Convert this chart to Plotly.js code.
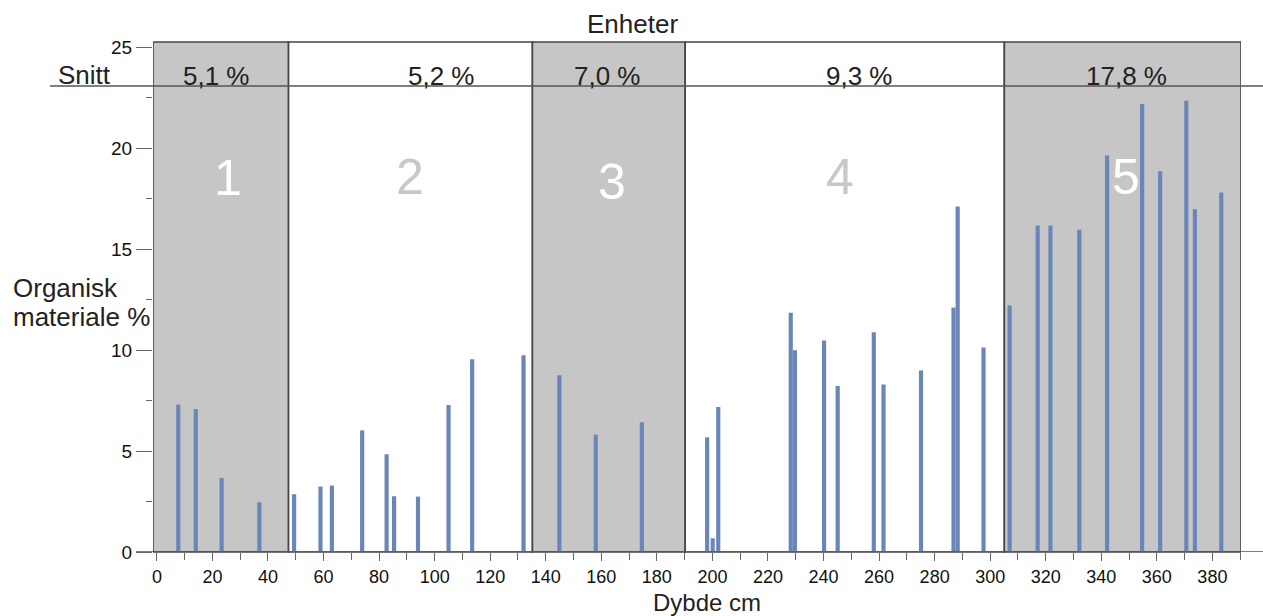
<!DOCTYPE html>
<html>
<head>
<meta charset="utf-8">
<script src="https://cdn.plot.ly/plotly-3.0.1.min.js"></script>
<style>
  html, body { margin: 0; padding: 0; background: #fff; }
  #chart { width: 1263px; height: 616px; }
</style>
</head>
<body>
<div id="chart"></div>
<script>
// ---------------- DATA ----------------
const depthCm = [7.7, 14.0, 23.3, 36.9, 49.4, 58.9, 63.0, 73.9, 82.7, 85.4, 94.0, 105.0, 113.5, 132.0,
                 144.9, 158.0, 174.6,
                 198.1, 200.1, 202.1, 228.2, 229.7, 240.2, 245.1, 258.1, 261.6, 275.1, 286.8, 288.3, 297.6,
                 307.0, 317.1, 321.7, 332.1, 342.1, 354.7, 361.2, 370.6, 373.7, 383.2];
const organicPct = [7.30, 7.08, 3.66, 2.46, 2.86, 3.24, 3.29, 6.02, 4.84, 2.76, 2.74, 7.28, 9.54, 9.74,
                    8.75, 5.81, 6.42,
                    5.68, 0.68, 7.18, 11.85, 9.99, 10.47, 8.22, 10.88, 8.29, 8.98, 12.11, 17.11, 10.12,
                    12.21, 16.16, 16.17, 15.95, 19.63, 22.18, 18.85, 22.34, 16.97, 17.80];
const unitNames = ['1', '2', '3', '4', '5'];
const unitEdges = [-1.4, 47.4, 135.2, 190.2, 305.1, 390.3];
const unitMeans = ['5,1 %', '5,2 %', '7,0 %', '9,3 %', '17,8 %'];
const snittLevel = 23.07;
const xTickVals = [0, 20, 40, 60, 80, 100, 120, 140, 160, 180, 200, 220, 240, 260, 280, 300, 320, 340, 360, 380];
const yTickVals = [0, 5, 10, 15, 20, 25];

// ---------------- LAYOUT / STYLE ----------------
const W = 1263, H = 616;
const M = { l: 153, r: 22, t: 42, b: 64 };
const plotW = W - M.l - M.r, plotH = H - M.t - M.b;
const px2x = px => (px - M.l) / plotW;          // pixel -> paper x
const py2y = py => 1 - (py - M.t) / plotH;      // pixel -> paper y

const FONT = 'Liberation Sans, Arial, Helvetica, sans-serif';
const TXT = '#222222';
const GRAY = '#c6c6c6';
const EDGE = '#454545';
const unitFill = [GRAY, '#ffffff', GRAY, '#ffffff', GRAY];
const unitNumColor = ['#ffffff', '#c8c8c8', '#ffffff', '#c8c8c8', '#ffffff'];
const meanLabelPx = [216, 441, 607, 859, 1126];
const unitNumPx = [[228, 178], [410, 177], [612, 182], [840, 177], [1126, 177]];

const shapes = [];
for (let i = 0; i < unitNames.length; i++) {
  shapes.push({
    type: 'rect', xref: 'x', yref: 'paper', layer: 'below',
    x0: unitEdges[i], x1: unitEdges[i + 1], y0: 0, y1: 1,
    fillcolor: unitFill[i], line: { color: EDGE, width: 1.6 }
  });
}
// Snitt line
shapes.push({ type: 'line', xref: 'paper', yref: 'y', x0: px2x(50), x1: px2x(1263),
  y0: snittLevel, y1: snittLevel, line: { color: '#555555', width: 1.6 }, layer: 'above' });
// baseline (x axis line)
shapes.push({ type: 'line', xref: 'paper', yref: 'y', x0: px2x(136), x1: px2x(1263),
  y0: 0, y1: 0, line: { color: '#555555', width: 1.6 }, layer: 'above' });

const annotations = [];
const ann = (text, px, py, size, color, xanchor) => annotations.push({
  text: text, xref: 'paper', yref: 'paper', x: px2x(px), y: py2y(py),
  xanchor: xanchor || 'center', yanchor: 'middle', showarrow: false, borderpad: 0,
  font: { family: FONT, size: size, color: color || TXT }
});
ann('Enheter', 632, 24, 26);
ann('Snitt', 84, 75, 26);
for (let i = 0; i < unitMeans.length; i++) ann(unitMeans[i], meanLabelPx[i], 76, 26);
for (let i = 0; i < unitNames.length; i++) ann(unitNames[i], unitNumPx[i][0], unitNumPx[i][1], 50, unitNumColor[i]);
ann('Organisk', 12, 288, 26, TXT, 'left');
ann('materiale %', 12, 317, 26, TXT, 'left');
ann('Dybde cm', 707, 602, 24);

const trace = {
  type: 'bar', x: depthCm, y: organicPct, width: 1.5,
  marker: { color: '#6a86b8', line: { width: 0 } },
  hoverinfo: 'x+y'
};

const layout = {
  width: W, height: H, margin: M,
  paper_bgcolor: '#ffffff', plot_bgcolor: 'rgba(0,0,0,0)',
  showlegend: false,
  font: { family: FONT, color: TXT },
  xaxis: {
    range: [unitEdges[0], unitEdges[unitEdges.length - 1]],
    tickmode: 'array', tickvals: xTickVals, ticktext: xTickVals.map(String),
    ticks: 'outside', ticklen: 8, tickwidth: 1, tickcolor: '#666',
    minor: { dtick: 10, tick0: 0, ticks: 'outside', ticklen: 7, tickwidth: 1, tickcolor: '#666', showgrid: false },
    showgrid: false, zeroline: false, showline: false,
    tickfont: { family: FONT, size: 18, color: '#111' }
  },
  yaxis: {
    range: [0, 25.25],
    tickmode: 'array', tickvals: yTickVals, ticktext: yTickVals.map(String),
    ticks: 'outside', ticklen: 16, tickwidth: 1, tickcolor: '#666',
    minor: { dtick: 2.5, tick0: 0, ticks: 'outside', ticklen: 6, tickwidth: 1, tickcolor: '#666', showgrid: false },
    showgrid: false, zeroline: false, showline: false,
    tickfont: { family: FONT, size: 19, color: '#111' }
  },
  shapes: shapes,
  annotations: annotations
};

Plotly.newPlot('chart', [trace], layout, { displayModeBar: false, staticPlot: true });
</script>
</body>
</html>
